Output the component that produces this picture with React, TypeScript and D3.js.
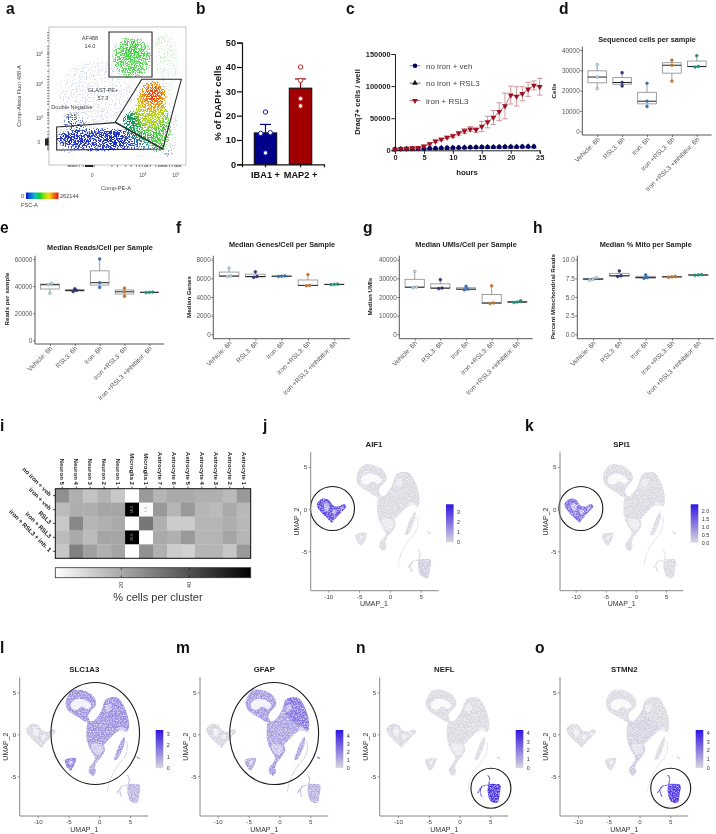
import React, { useEffect, useRef } from 'react';
import * as d3 from 'd3';

const FONT = '"Liberation Sans", Arial, sans-serif';

// panel a, flow plot, all in display channels 0-100 of the plot frame
const flowPopulations: [number, number, number, number, string, number][] = [
  [36, 18.5, 34, 10, '#3a4cd0', 0.5],
  [37, 18, 30, 6.5, '#2a3ccc', 0.62],
  [19, 19, 12, 4.5, '#1c2cc4', 0.74],
  [47, 19, 10, 6, '#1a2cc0', 0.76],
  [72, 13, 13, 5, '#3d7cd0', 0.48],
  [80, 27, 10, 18, '#70d860', 0.54],
  [80, 27, 9, 15, '#58d044', 0.6],
  [70, 29, 13, 12, '#34c440', 0.68],
  [61.5, 33, 8, 7, '#078f5c', 0.82],
  [74, 41, 12, 16, '#c4d820', 0.58],
  [74, 41, 10, 14, '#c4d820', 0.64],
  [76, 50, 11, 12, '#f0a012', 0.58],
  [76, 50, 9, 10, '#f09012', 0.7],
  [76, 51, 5, 6, '#e83010', 0.8],
  [60.5, 78, 16, 17, '#78d878', 0.5],
  [60.5, 78, 13, 13, '#56d456', 0.58],
  [61.5, 82, 5.5, 6, '#28e028', 0.86]
];
const flowBackground: [number, number, number, number, string, number][] = [
  [35, 52, 34, 30, '#3558c0', 0.4],
  [86, 75, 14, 26, '#58c860', 0.41],
  [90, 28, 10, 24, '#60b0a0', 0.42],
  [14, 18, 14, 16, '#3450c0', 0.42],
  [70, 6, 22, 5, '#3858c8', 0.46],
  [72, 92, 8, 3, '#f0a070', 0.46]
];
const gateAf488 = [[43.8, 96.4], [75.2, 96.4], [75.2, 63.8], [43.8, 63.8]];
const gateGlast = [[67.7, 62.1], [96.6, 62.1], [83, 11.6], [48.4, 31.2]];
const gateDouble = [[5.6, 27.5], [48.4, 30.7], [83, 11.6], [5.6, 10.9]];
const flowTicksX = [14, 15, 16, 17, 18, 19, 20, 22, 25, 27, 28, 29, 30, 31, 32, 33, 46, 50, 56, 60, 64, 66, 68, 70, 71, 72, 74, 78, 80, 81, 82, 83, 84, 85, 86, 88, 90, 92, 93, 94, 95, 96];
const flowTicksY = [11, 12, 13, 14, 15, 16, 17, 18, 19, 20, 22, 24, 27, 30, 32, 34, 36, 37, 38, 40, 44, 46, 48, 50, 52, 54, 56, 58, 60, 62, 64, 68, 72, 74, 76, 78, 80, 81, 82, 84, 86, 90, 92, 94, 96];
const rainbow = ['#0a1cc8', '#0a70e0', '#10c0c0', '#10d020', '#a0e010', '#f8d810', '#f07010', '#e81010'];

// panel b
const barCats = ['IBA1 +', 'MAP2 +'];
const barMeans = [12.9, 31.3];
const barErr = [3.5, 3.8];
const barDots = [[21.5, 13.0, 12.7, 4.7], [40, 34.5, 27, 24]];
const barFills = ['#00008b', '#a00000'];

// panel c
const vehValues = [1500, 2000, 2200, 2300, 2500, 2800, 3000, 3200, 3500, 3700, 3900, 4100, 4400, 4600, 4800, 5000, 5100, 5200, 5300, 5400, 5500, 5600, 5700, 5800, 5800];
const rsl3Values = [1400, 1900, 2100, 2200, 2400, 2700, 2900, 3100, 3400, 3600, 3800, 4000, 4300, 4500, 4700, 4900, 5000, 5100, 5200, 5300, 5400, 5500, 5600, 5700, 5700];
const ironValues = [1500, 2500, 3000, 3500, 4000, 6500, 10000, 14000, 17000, 20000, 22500, 26500, 30000, 33000, 32000, 37000, 44000, 51000, 60000, 69000, 86000, 84000, 88000, 95000, 101000, 99000];
const ironErr = [200, 300, 400, 500, 700, 1500, 2000, 2000, 2000, 2000, 2500, 3000, 4000, 4000, 4000, 8000, 9000, 11000, 14000, 20000, 14000, 15000, 11000, 11000, 7000, 13000];
const growthLegend = ['no iron + veh', 'no iron + RSL3', 'iron + RSL3'];
const NAVY = '#00006a';
const RED = '#9c1020';

// panels d-h
const samples = ['Vehicle: 6h', 'RSL3: 6h', 'Iron: 6h', 'Iron +RSL3: 6h', 'Iron +RSL3 +inhibitor: 6h'];
const sampleColors = ['#6f9bb2', '#34347c', '#3b71ad', '#bd7434', '#27907a'];
const cellsPerSample = [[21000, 26700, 32800], [22300, 24000, 28800], [12200, 14800, 23600], [24700, 32500, 35000], [31600, 31900, 37200]];
const readsPerCell = [[34700, 41000, 42000], [36000, 36800, 38000], [39000, 42500, 60000], [32500, 35800, 38500], [35200, 35400, 35600]];
const genesPerCell = [[6200, 6250, 7100], [6100, 6200, 6700], [6200, 6230, 6260], [5200, 5250, 6400], [5330, 5350, 5380]];
const umisPerCell = [[25000, 25300, 33700], [24500, 24800, 29300], [23800, 24200, 25700], [16500, 16800, 26000], [17000, 17300, 18000]];
const mitoPerCell = [[7.25, 7.4, 7.6], [7.75, 7.85, 8.5], [7.5, 7.6, 7.95], [7.65, 7.7, 7.75], [7.9, 7.95, 8.0]];

// panel i
const clusters = ['Neuron 5', 'Neuron 4', 'Neuron 3', 'Neuron 2', 'Neuron 1', 'Microglia 2', 'Microglia 1', 'Astrocyte 7', 'Astrocyte 6', 'Astrocyte 5', 'Astrocyte 4', 'Astrocyte 3', 'Astrocyte 2', 'Astrocyte 1'];
const conditions = ['no iron + veh', 'iron + veh', 'RSL3', 'iron + RSL3', 'iron + RSL3 + inh. 1'];
const clusterShare = [
  [25.6, 18.4, 13.9, 17.5, 13, 0.6, 23.3, 17.3, 19.7, 19.7, 18.4, 18.4, 15.9, 23.6],
  [15.9, 18.8, 18.8, 20.8, 20.8, 58, 1.5, 23.6, 17.3, 23.6, 17.3, 15.9, 19.7, 16.6],
  [13, 27.4, 17.3, 18.4, 19.7, 0.6, 31.2, 18.4, 12, 12, 17.3, 17.3, 18.8, 16.6],
  [15.9, 19.7, 15.9, 20.8, 20.8, 58, 1, 19.7, 18.4, 23.6, 17.3, 17.3, 20.8, 17.3],
  [13.5, 29.3, 22, 18.4, 20.8, 0.8, 25.6, 18.4, 12, 11, 17.3, 17.3, 13.5, 23.6]
];

// panels j-o, outlines of the UMAP islands in UMAP units
const outlineArc = [[-5.47, 3.77], [-5.04, 4.68], [-4.23, 5.28], [-2.87, 5.28], [-1.52, 4.88], [-0.65, 4.17], [-0.54, 3.49], [-1.08, 2.98], [-1.79, 2.3], [-1.52, 1.51], [-2.33, 1.51], [-3.14, 1.9], [-4.5, 2.5], [-5.2, 2.98]];
const outlineLobe = [[-1.79, 1.51], [-0.87, 1.63], [0.38, 2.9], [0.92, 4.0], [2.0, 4.4], [3.09, 4.29], [3.9, 3.49], [4.55, 2.3], [4.82, 1.11], [4.55, 0.32], [3.36, 0.44], [2.28, -0.08], [1.46, -0.67], [0.65, -1.27], [-0.43, -1.27], [-1.79, -1.07], [-2.06, 0.52]];
const outlineLobeTop = [[0.92, 4.0], [2.0, 4.4], [3.09, 4.29], [3.9, 3.49], [4.55, 2.3], [4.82, 1.11], [4.55, 0.52], [2.82, 1.31], [1.3, 2.1]];
const outlineTail = [[-1.79, -1.07], [0.65, -1.27], [0.92, -1.87], [0.38, -2.66], [-0.33, -3.25], [-0.7, -3.93], [-0.54, -4.44], [-0.98, -4.92], [-1.63, -4.64], [-1.68, -4.05], [-1.08, -3.45], [-0.7, -2.86], [-1.25, -2.06]];
const outlineMicroglia = [[-11.82, 0.71], [-11.0, 1.23], [-9.92, 1.11], [-9.21, 0.44], [-8.29, 0.32], [-7.48, 0.6], [-7.05, 0.32], [-7.75, -0.28], [-8.29, -0.67], [-9.0, -1.27], [-9.38, -1.59], [-10.19, -1.07], [-11.27, -0.28], [-11.82, 0.32]];
const outlineTriangle = [[-5.58, -3.06], [-3.79, -2.86], [-4.66, -4.33], [-5.15, -4.05]];
const outlineTiny = [[6.07, -2.58], [6.72, -2.9], [6.4, -2.95], [6.07, -2.75]];
const outlineStrip = [[3.36, -1.07], [4.07, -0.28], [4.17, -0.87], [3.63, -2.06], [2.82, -3.06], [2.44, -3.06], [2.82, -2.06]];
const outlineNeuron = [[4.72, -6.03], [5.8, -5.91], [6.61, -6.03], [6.5, -7.22], [6.18, -8.13], [5.26, -8.06], [4.72, -7.42]];
const strandLine = [[4.44, -0.87], [4.55, -1.47], [4.17, -2.66], [3.09, -3.65], [1.73, -5.44], [1.3, -6.83]];
const neuronStemA = [[4.55, -4.84], [4.88, -5.24], [4.72, -6.23], [5.0, -6.83]];
const neuronStemB = [[4.72, -6.03], [3.63, -6.23], [3.36, -6.83], [3.63, -7.42]];
const neuronStemC = [[3.63, -6.23], [2.9, -7.0]];
const holesArc = [
  [[-4.6, 3.7], [-3.6, 4.2], [-2.1, 4.0], [-1.3, 3.4], [-1.9, 3.0], [-2.8, 3.3], [-3.7, 2.9], [-4.5, 3.1]]
];
const holesSmall = [
  [[-10.7, 0.65], [-10.0, 0.65], [-9.8, 0.2], [-10.2, -0.3], [-10.7, 0.1]],
  [[-9.2, -0.05], [-8.6, -0.15], [-9, -0.65], [-9.35, -0.4]],
  [[-8.0, 0.25], [-7.6, 0.25], [-7.9, -0.15]],
  [[-4.9, -3.25], [-4.3, -3.15], [-4.7, -3.7]]
];
const holesPale = [
  [[-1.3, -1.2], [0.4, -1.3], [0.6, -1.9], [-0.2, -2.5], [-0.9, -2.1]],
  [[1.0, 3.4], [1.8, 3.6], [2.0, 3.0], [1.2, 2.6]],
  [[3.3, 0.9], [4.3, 0.6], [4.4, 0.4], [3.2, 0.5]]
];
// expression level of each island: arc, lobe, lobeTop, tail, microglia, triangle, tiny, strip, strand, neuron
const levelsAif1 = [0, 0, 0, 0, 0.75, 0, 0, 0, 0, 0.07];
const levelsSpi1 = [0, 0, 0, 0, 0.55, 0, 0, 0, 0, 0];
const levelsSlc1a3 = [0.36, 0.36, 0.4, 0.3, 0.02, 0.48, 0.25, 0.32, 0.16, 0.2];
const levelsGfap = [0.34, 0.3, 0.52, 0.36, 0.03, 0.26, 0.3, 0.3, 0.16, 0.22];
const levelsNefl = [0, 0, 0, 0, 0, 0, 0, 0, 0, 0.85];
const levelsStmn2 = [0, 0.04, 0, 0.08, 0, 0, 0, 0, 0, 0.85];

const umapPanels = [
  { gene: 'AIF1', levels: levelsAif1, xPx: [328.3, 420.7], yPx: [551.3, 467], left: 310.7, right: 438.7, top: 452.3, bottom: 590.7, titleX: 374, titleY: 446.7, yLabelX: 299, ring: [-9.32, 0.08, 3.57, 2.61], legendX: 446, legendY: [504.3, 542.3], legendTicks: [0, 1, 2, 3], legendTopY: 512, legendFmt: 'd' },
  { gene: 'SPI1', levels: levelsSpi1, xPx: [575.7, 666], yPx: [551.3, 467], left: 560, right: 683.3, top: 452.3, bottom: 590.7, titleX: 621.7, titleY: 446.7, yLabelX: 548, ring: [-9.14, 0.08, 3.65, 2.61], legendX: 690.7, legendY: [504.3, 542.7], legendTicks: [0, 0.5, 1, 1.5, 2], legendTopY: 510.7, legendFmt: '.1f' },
  { gene: 'SLC1A3', levels: levelsSlc1a3, xPx: [37.7, 130], yPx: [776.3, 692.3], left: 19.7, right: 148.3, top: 677.3, bottom: 816, titleX: 84.3, titleY: 672, yLabelX: 8.5, ring: [-0.65, 0.1, 7.2, 6.07], legendX: 155.7, legendY: [730, 768], legendTicks: [0, 1, 2, 3], legendTopY: 734, legendFmt: 'd' },
  { gene: 'GFAP', levels: levelsGfap, xPx: [217.7, 310.3], yPx: [776.3, 692.3], left: 200, right: 328.3, top: 677.3, bottom: 816, titleX: 264.3, titleY: 672, yLabelX: 188, ring: [-0.85, 0.1, 7.2, 6.07], legendX: 335.7, legendY: [730, 768], legendTicks: [0, 1, 2, 3, 4], legendTopY: 736, legendFmt: 'd' },
  { gene: 'NEFL', levels: levelsNefl, xPx: [398, 490.3], yPx: [776.3, 692.3], left: 379.7, right: 508.3, top: 677.3, bottom: 816, titleX: 444.3, titleY: 672, yLabelX: 368.5, ring: [5.1, -6.43, 3.25, 2.38], legendX: 515.7, legendY: [730, 768], legendTicks: [0, 1, 2, 3, 4], legendTopY: 733, legendFmt: 'd' },
  { gene: 'STMN2', levels: levelsStmn2, xPx: [578, 670.3], yPx: [776.3, 692.3], left: 560, right: 688.3, top: 677.3, bottom: 816, titleX: 624.3, titleY: 672, yLabelX: 548.5, ring: [5.07, -6.43, 3.25, 2.38], legendX: 695.7, legendY: [730, 768], legendTicks: [0, 1, 2, 3, 4], legendTopY: 733, legendFmt: 'd' }
];

const panelLetters: [string, number, number][] = [
  ['a', 6, 13.6], ['b', 196, 13.6], ['c', 346, 13.6], ['d', 559, 13.6],
  ['e', 0, 233], ['f', 176, 233], ['g', 363, 233], ['h', 533, 233],
  ['i', 0, 431], ['j', 263, 431], ['k', 525, 431],
  ['l', 0, 653], ['m', 176, 653], ['n', 356, 653], ['o', 535, 653]
];

type G = d3.Selection<SVGGElement, unknown, null, undefined>;

function label(g: G, x: number, y: number, s: string, size: number, opts: any = {}) {
  const t = g.append('text')
    .attr('x', x).attr('y', y)
    .attr('font-size', size)
    .attr('font-family', FONT)
    .attr('font-weight', opts.weight || 'normal')
    .attr('fill', opts.fill || '#222')
    .attr('text-anchor', opts.anchor || 'middle')
    .text(s);
  if (opts.rotate !== undefined) t.attr('transform', `rotate(${opts.rotate},${x},${y})`);
  return t;
}

// side by side offsets for points that would sit on top of each other
function swarm(values: number[], y: (v: number) => number, gap: number, spacing: number) {
  const order = values.map((v, i) => ({ v, i })).sort((a, b) => a.v - b.v);
  const offsets = values.map(() => 0);
  let start = 0;
  for (let k = 1; k <= order.length; k++) {
    if (k === order.length || Math.abs(y(order[k].v) - y(order[k - 1].v)) > gap) {
      const n = k - start;
      for (let j = start; j < k; j++) offsets[order[j].i] = (j - start - (n - 1) / 2) * spacing;
      start = k;
    }
  }
  return offsets;
}

function drawFlow(root: G) {
  const x = d3.scaleLinear().domain([0, 100]).range([49, 186]);
  const y = d3.scaleLinear().domain([0, 100]).range([165, 27]);
  const g = root.append('g');

  const cloud = (rows: typeof flowPopulations, filter: string) => {
    g.append('g').attr('clip-path', 'url(#flowClip)').append('g').attr('filter', filter)
      .selectAll('ellipse').data(rows).enter().append('ellipse')
      .attr('cx', d => x(d[0])).attr('cy', d => y(d[1]))
      .attr('rx', d => x(d[2]) - x(0)).attr('ry', d => y(0) - y(d[3]))
      .attr('fill', d => d[4]).attr('opacity', d => d[5]);
  };
  cloud(flowBackground, 'url(#speckSparse)');
  cloud(flowPopulations, 'url(#speckDense)');

  g.append('rect').attr('x', 49).attr('y', 27).attr('width', 137).attr('height', 138)
    .attr('fill', 'none').attr('stroke', '#c4c4c4').attr('stroke-width', 1);

  const gate = d3.line<number[]>().x(d => x(d[0])).y(d => y(d[1])).curve(d3.curveLinearClosed);
  [gateAf488, gateGlast, gateDouble].forEach(p => {
    g.append('path').attr('d', gate(p)).attr('fill', 'none').attr('stroke', '#2a2a2a').attr('stroke-width', 1.1);
  });

  // axis ticks
  g.selectAll('.tx').data(flowTicksX).enter().append('line')
    .attr('x1', d => x(d)).attr('x2', d => x(d)).attr('y1', 165).attr('y2', 167).attr('stroke', '#333').attr('stroke-width', 0.6);
  g.selectAll('.ty').data(flowTicksY).enter().append('line')
    .attr('y1', d => y(d)).attr('y2', d => y(d)).attr('x1', 47).attr('x2', 49).attr('stroke', '#333').attr('stroke-width', 0.6);
  g.append('rect').attr('x', 45).attr('y', 138.5).attr('width', 3.5).attr('height', 7).attr('fill', '#222');
  g.append('rect').attr('x', 85).attr('y', 165).attr('width', 8).attr('height', 2).attr('fill', '#222');

  const s = 5.6;
  const c = '#444';
  label(g, 90, 40, 'AF488', s, { fill: c });
  label(g, 90, 48, '14.0', s, { fill: c });
  label(g, 103, 92, 'GLAST-PE+', s, { fill: c });
  label(g, 103, 100, '57.3', s, { fill: c });
  label(g, 72, 109, 'Double Negative', s, { fill: c });
  label(g, 71.5, 118, '22.5', s, { fill: c });
  label(g, 116, 190, 'Comp-PE-A', s, { fill: c });
  label(g, 21, 96, 'Comp-Alexa Fluor 488-A', s, { fill: c, rotate: -90 });

  const power = (px: number, py: number, exp: string, anchor: string) => {
    const t = label(g, px, py, '10', 4.6, { fill: c, anchor });
    t.append('tspan').attr('dy', -1.6).attr('font-size', 3.4).text(exp);
  };
  power(43, 56, '5', 'end');
  power(43, 86, '4', 'end');
  power(43, 120, '3', 'end');
  label(g, 40, 144, '0', 4.6, { fill: c, anchor: 'end' });
  label(g, 92.3, 177, '0', 4.6, { fill: c });
  power(143, 177, '4', 'middle');
  power(176, 177, '5', 'middle');

  g.append('rect').attr('x', 26).attr('y', 192.5).attr('width', 32.5).attr('height', 6.5).attr('fill', 'url(#rainbow)');
  label(g, 21, 198, '0', 5.6, { fill: c, anchor: 'start' });
  label(g, 60, 198, '262144', 5.6, { fill: c, anchor: 'start' });
  label(g, 21, 207, 'FSC-A', 5.6, { fill: c, anchor: 'start' });
}

function drawBars(root: G) {
  const g = root.append('g');
  const x = d3.scaleBand().domain(barCats).range([242, 324]).paddingInner(0.36).paddingOuter(0.35);
  const y = d3.scaleLinear().domain([0, 50]).range([164.3, 42.7]);

  barCats.forEach((cat, i) => {
    const cx = (x(cat) as number) + x.bandwidth() / 2;
    g.append('line').attr('x1', cx).attr('x2', cx).attr('y1', y(barMeans[i])).attr('y2', y(barMeans[i] + barErr[i]))
      .attr('stroke', barFills[i]).attr('stroke-width', 1.2);
    g.append('line').attr('x1', cx - 5.5).attr('x2', cx + 5.5).attr('y1', y(barMeans[i] + barErr[i])).attr('y2', y(barMeans[i] + barErr[i]))
      .attr('stroke', barFills[i]).attr('stroke-width', 1.2);
    g.append('rect').attr('x', x(cat) as number).attr('width', x.bandwidth())
      .attr('y', y(barMeans[i])).attr('height', y(0) - y(barMeans[i]))
      .attr('fill', barFills[i]).attr('stroke', '#111').attr('stroke-width', 1.1);
    const off = swarm(barDots[i], y, 3, 9.6);
    g.selectAll(`.d${i}`).data(barDots[i]).enter().append('circle')
      .attr('cx', (_, k) => cx + off[k]).attr('cy', d => y(d)).attr('r', 2.2)
      .attr('fill', 'white').attr('stroke', i === 0 ? '#1a1ab0' : '#d02020').attr('stroke-width', 1);
  });

  const ya = g.append('g').attr('transform', 'translate(242,0)').call(d3.axisLeft(y).tickValues([0, 10, 20, 30, 40, 50]).tickSize(5).tickPadding(1));
  const xa = g.append('g').attr('transform', 'translate(0,164.3)').call(d3.axisBottom(x).tickSize(3).tickPadding(4));
  [ya, xa].forEach(a => {
    a.selectAll('path,line').attr('stroke', '#111').attr('stroke-width', 1.2);
    a.selectAll('text').attr('font-family', FONT).attr('font-weight', 'bold').attr('fill', '#111');
  });
  ya.selectAll('text').attr('font-size', 9.2);
  xa.selectAll('text').attr('font-size', 9.2);
  label(g, 220.5, 103, '% of DAPI+ cells', 9.6, { weight: 'bold', rotate: -90, fill: '#111' });
}

function drawGrowth(root: G) {
  const g = root.append('g');
  const x = d3.scaleLinear().domain([0, 25]).range([395, 539.7]);
  const y = d3.scaleLinear().domain([0, 150000]).range([150.3, 54]);
  const line = d3.line<number>().x((_, i) => x(i)).y(d => y(d));

  const axY = g.append('g').attr('transform', 'translate(395,0)').call(d3.axisLeft(y).tickValues([0, 50000, 100000, 150000]).tickSize(3.5).tickPadding(1).tickFormat(d => String(d)));
  const axX = g.append('g').attr('transform', 'translate(0,150.3)').call(d3.axisBottom(x).tickValues([0, 5, 10, 15, 20, 25]).tickSize(3.5).tickPadding(1));
  [axY, axX].forEach(a => {
    a.selectAll('path,line').attr('stroke', '#222').attr('stroke-width', 1);
    a.selectAll('text').attr('font-family', FONT).attr('font-weight', 'bold').attr('font-size', 7.4).attr('fill', '#222');
  });

  const sym = (type: d3.SymbolType, size: number) => d3.symbol().type(type).size(size)() as string;

  // black series sits underneath the navy one
  g.append('path').attr('d', line(rsl3Values)).attr('fill', 'none').attr('stroke', '#444').attr('stroke-width', 0.7);
  g.selectAll('.rsl3').data(rsl3Values).enter().append('path')
    .attr('d', sym(d3.symbolTriangle, 14)).attr('fill', '#111')
    .attr('transform', (d, i) => `translate(${x(i)},${y(d)})`);

  g.append('path').attr('d', line(vehValues)).attr('fill', 'none').attr('stroke', '#7070b0').attr('stroke-width', 0.7);
  g.selectAll('.veh').data(vehValues).enter().append('circle')
    .attr('cx', (_, i) => x(i)).attr('cy', d => y(d)).attr('r', 2.3).attr('fill', NAVY);

  ironValues.forEach((v, i) => {
    const e = ironErr[i];
    const cap = 2.8;
    const p = `M${x(i)},${y(v - e)}V${y(v + e)}M${x(i) - cap},${y(v + e)}H${x(i) + cap}M${x(i) - cap},${y(v - e)}H${x(i) + cap}`;
    g.append('path').attr('d', p).attr('fill', 'none').attr('stroke', '#c08088').attr('stroke-width', 0.8);
  });
  g.append('path').attr('d', line(ironValues)).attr('fill', 'none').attr('stroke', '#b04050').attr('stroke-width', 0.8);
  g.selectAll('.iron').data(ironValues).enter().append('path')
    .attr('d', sym(d3.symbolTriangle, 15)).attr('fill', RED)
    .attr('transform', (d, i) => `translate(${x(i)},${y(d)}) rotate(180)`);

  // legend
  const ly = d3.scalePoint<string>().domain(growthLegend).range([65.7, 100.6]);
  const colors = ['#7070b0', '#444', '#b04050'];
  growthLegend.forEach((name, i) => {
    const yy = ly(name) as number;
    g.append('line').attr('x1', 409.5).attr('x2', 420.5).attr('y1', yy).attr('y2', yy).attr('stroke', colors[i]).attr('stroke-width', 0.8);
    if (i === 0) g.append('circle').attr('cx', 415).attr('cy', yy).attr('r', 2.3).attr('fill', NAVY);
    if (i === 1) g.append('path').attr('d', sym(d3.symbolTriangle, 14)).attr('fill', '#111').attr('transform', `translate(415,${yy})`);
    if (i === 2) g.append('path').attr('d', sym(d3.symbolTriangle, 15)).attr('fill', RED).attr('transform', `translate(415,${yy}) rotate(180)`);
    label(g, 426, yy + 2.9, name, 8, { anchor: 'start', fill: '#444' });
  });

  label(g, 467, 175, 'hours', 7.8, { weight: 'bold' });
  label(g, 360, 102, 'Draq7+ cells / well', 7.6, { weight: 'bold', rotate: -90 });
}

function drawBox(root: G, cfg: any) {
  const g = root.append('g');
  const x = d3.scalePoint<string>().domain(samples).range([cfg.left, cfg.right]).padding(0.6);
  const y = d3.scaleLinear().domain([0, cfg.refValue]).range([cfg.y0, cfg.yRef]);
  const half = (x.step() * 0.75) / 2;

  cfg.data.forEach((vals: number[], i: number) => {
    const cx = x(samples[i]) as number;
    const sorted = vals.slice().sort(d3.ascending);
    const q1 = d3.quantile(sorted, 0.25) as number;
    const med = d3.quantile(sorted, 0.5) as number;
    const q3 = d3.quantile(sorted, 0.75) as number;
    g.append('line').attr('x1', cx).attr('x2', cx).attr('y1', y(sorted[0])).attr('y2', y(sorted[2])).attr('stroke', '#8a8a8a').attr('stroke-width', 0.8);
    g.append('rect').attr('x', cx - half).attr('width', half * 2).attr('y', y(q3)).attr('height', y(q1) - y(q3))
      .attr('fill', '#fff').attr('stroke', '#8a8a8a').attr('stroke-width', 0.8);
    g.append('line').attr('x1', cx - half).attr('x2', cx + half).attr('y1', y(med)).attr('y2', y(med)).attr('stroke', '#222').attr('stroke-width', 1);
    const off = swarm(vals, y, 1.6, 3.3);
    g.selectAll(`.p${i}`).data(vals).enter().append('circle')
      .attr('cx', (_, k) => cx + off[k]).attr('cy', d => y(d)).attr('r', 1.4)
      .attr('fill', i === 0 ? '#cfdde5' : sampleColors[i]).attr('stroke', sampleColors[i]).attr('stroke-width', 0.6);
  });

  const ya = g.append('g').attr('transform', `translate(${cfg.left},0)`)
    .call(d3.axisLeft(y).tickValues(cfg.ticks).tickSize(2).tickPadding(0.6).tickFormat(d3.format(cfg.fmt) as any));
  const xa = g.append('g').attr('transform', `translate(0,${cfg.bottom})`).call(d3.axisBottom(x).tickSize(2));
  [ya, xa].forEach(a => {
    a.select('.domain').remove();
    a.selectAll('line').attr('stroke', '#444').attr('stroke-width', 0.7);
    a.selectAll('text').attr('font-family', FONT).attr('fill', '#555');
  });
  ya.selectAll('text').attr('font-size', 6.4);
  xa.selectAll('text').attr('font-size', 6.6)
    .attr('text-anchor', 'end')
    .attr('dx', 0).attr('dy', 0)
    .attr('transform', 'translate(2.5,5) rotate(-45)')
    .attr('y', 0);
  g.append('path').attr('d', `M${cfg.left},${cfg.top}V${cfg.bottom}H${cfg.right}`).attr('fill', 'none').attr('stroke', '#444').attr('stroke-width', 0.9);

  label(g, cfg.titleX, cfg.titleY, cfg.title, 7.3, { weight: 'bold' });
  label(g, cfg.yLabelX, cfg.yLabelY, cfg.yLabel, 6.2, { weight: 'bold', rotate: -90 });
}

function drawHeatmap(root: G) {
  const g = root.append('g');
  const x = d3.scaleBand().domain(clusters).range([55.3, 250.7]);
  const y = d3.scaleBand().domain(conditions).range([488.7, 558.3]);
  const color = d3.scaleLinear<string>().domain([0.6, 58]).range(['#ffffff', '#000000']);
  const barX = d3.scaleLinear().domain([20, 40]).range([121.3, 189.3]);

  clusterShare.forEach((row, r) => {
    row.forEach((v, c) => {
      g.append('rect').attr('x', x(clusters[c]) as number).attr('y', y(conditions[r]) as number)
        .attr('width', x.bandwidth() + 0.3).attr('height', y.bandwidth() + 0.3).attr('fill', color(v));
      if (v > 50 || (v > 1.2 && v < 2)) {
        const cx = (x(clusters[c]) as number) + x.bandwidth() / 2;
        const cy = (y(conditions[r]) as number) + y.bandwidth() / 2;
        label(g, cx + 1.2, cy, d3.format('.1f')(v), 3.8, { fill: '#999', rotate: -90 });
      }
    });
  });
  g.append('rect').attr('x', 55.3).attr('y', 488.7).attr('width', 195.4).attr('height', 69.6).attr('fill', 'none').attr('stroke', '#111').attr('stroke-width', 1);

  clusters.forEach(c => {
    const cx = (x(c) as number) + x.bandwidth() / 2;
    g.append('line').attr('x1', cx).attr('x2', cx).attr('y1', 486.5).attr('y2', 488.7).attr('stroke', '#222').attr('stroke-width', 0.8);
    label(g, cx - 2, 485, c, 6.1, { weight: 'bold', anchor: 'end', rotate: 90 }).attr('dy', 0);
  });
  conditions.forEach(c => {
    const cy = (y(c) as number) + y.bandwidth() / 2;
    g.append('line').attr('x1', 53).attr('x2', 55.3).attr('y1', cy).attr('y2', cy).attr('stroke', '#222').attr('stroke-width', 0.8);
    label(g, 49, cy + 1, c, 6.1, { weight: 'bold', anchor: 'end', rotate: 45 });
  });

  g.append('rect').attr('x', 55.3).attr('y', 567.7).attr('width', 195.4).attr('height', 10)
    .attr('fill', 'url(#greyRamp)').attr('stroke', '#333').attr('stroke-width', 0.8);
  [20, 40].forEach(t => {
    g.append('line').attr('x1', barX(t)).attr('x2', barX(t)).attr('y1', 567.7).attr('y2', 570).attr('stroke', '#222').attr('stroke-width', 0.7);
    g.append('line').attr('x1', barX(t)).attr('x2', barX(t)).attr('y1', 575.5).attr('y2', 578).attr('stroke', '#222').attr('stroke-width', 0.7);
    label(g, barX(t) + 2, 585, String(t), 6, { fill: '#444', rotate: -90 });
  });
  label(g, 158, 601, '% cells per cluster', 11, { fill: '#333' });
}

function drawUmap(root: G, p: typeof umapPanels[number]) {
  const g = root.append('g');
  const x = d3.scaleLinear().domain([-10, 5]).range(p.xPx);
  const y = d3.scaleLinear().domain([-5, 5]).range(p.yPx);
  const shape = d3.line<number[]>().x(d => x(d[0])).y(d => y(d[1])).curve(d3.curveCatmullRomClosed.alpha(0.5));
  const open = d3.line<number[]>().x(d => x(d[0])).y(d => y(d[1])).curve(d3.curveCatmullRom.alpha(0.5));
  const tint = d3.scaleLinear<string>().domain([0, 1]).range(['#d9d7df', '#3015e0']);

  const cloud = g.append('g').attr('filter', 'url(#grain)');
  const islands = [outlineArc, outlineLobe, outlineLobeTop, outlineTail, outlineMicroglia, outlineTriangle, outlineTiny, outlineStrip];
  islands.forEach((o, i) => {
    cloud.append('path').attr('d', shape(o)).attr('fill', tint(p.levels[i]));
  });
  cloud.append('path').attr('d', open(strandLine)).attr('fill', 'none').attr('stroke', tint(p.levels[8])).attr('stroke-width', 0.8);
  [neuronStemA, neuronStemB, neuronStemC].forEach(o => {
    cloud.append('path').attr('d', open(o)).attr('fill', 'none').attr('stroke', tint(p.levels[9] * 0.9)).attr('stroke-width', 1.1);
  });
  cloud.append('path').attr('d', shape(outlineNeuron)).attr('fill', tint(p.levels[9]));
  holesArc.forEach(o => {
    cloud.append('path').attr('d', shape(o)).attr('fill', 'white').attr('opacity', 0.85);
  });
  holesSmall.forEach(o => {
    cloud.append('path').attr('d', shape(o)).attr('fill', 'white').attr('opacity', 0.55);
  });
  holesPale.forEach(o => {
    cloud.append('path').attr('d', shape(o)).attr('fill', 'white').attr('opacity', 0.45);
  });

  const ring = p.ring;
  g.append('ellipse')
    .attr('cx', x(ring[0])).attr('cy', y(ring[1]))
    .attr('rx', x(ring[2]) - x(0)).attr('ry', y(0) - y(ring[3]))
    .attr('fill', 'none').attr('stroke', '#1a1a1a').attr('stroke-width', 1.1);

  const ax = g.append('g').attr('transform', `translate(0,${p.bottom})`)
    .call(d3.axisBottom(x).tickValues([-10, -5, 0, 5]).tickSize(2).tickPadding(1.5).tickFormat(d => String(d)));
  const ay = g.append('g').attr('transform', `translate(${p.left},0)`)
    .call(d3.axisLeft(y).tickValues([-5, 0, 5]).tickSize(2).tickPadding(1.5).tickFormat(d => String(d)));
  [ax, ay].forEach(a => {
    a.select('.domain').remove();
    a.selectAll('line').attr('stroke', '#666').attr('stroke-width', 0.7);
    a.selectAll('text').attr('font-family', FONT).attr('font-size', 6.2).attr('fill', '#444');
  });
  g.append('path').attr('d', `M${p.left},${p.top}V${p.bottom}H${p.right}`).attr('fill', 'none').attr('stroke', '#888').attr('stroke-width', 1);

  label(g, p.titleX, p.titleY, p.gene, 7.8, { weight: 'bold' });
  label(g, p.titleX, p.bottom + 15.7, 'UMAP_1', 7, { fill: '#333' });
  label(g, p.yLabelX, (p.top + p.bottom) / 2, 'UMAP_2', 7, { fill: '#333', rotate: -90 });

  // colour legend
  const ticks = p.legendTicks;
  const ls = d3.scaleLinear().domain([0, ticks[ticks.length - 1]]).range([p.legendY[1], p.legendTopY]);
  g.append('rect').attr('x', p.legendX).attr('y', p.legendY[0]).attr('width', 7.6).attr('height', p.legendY[1] - p.legendY[0]).attr('fill', `url(#seurat)`);
  ticks.forEach(t => {
    label(g, p.legendX + 11, ls(t) + 1.9, d3.format(p.legendFmt)(t), 5.4, { fill: '#333', anchor: 'start' });
  });
}

export default function App() {
  const svgRef = useRef<SVGSVGElement>(null);

  useEffect(() => {
    if (!svgRef.current) return;
    const svg = d3.select(svgRef.current);
    svg.selectAll('*').remove();

    const defs = svg.append('defs');
    defs.append('clipPath').attr('id', 'flowClip').append('rect').attr('x', 49).attr('y', 27).attr('width', 137).attr('height', 138);

    const grad = (id: string, stops: string[], vertical: boolean) => {
      const lg = defs.append('linearGradient').attr('id', id)
        .attr('x1', 0).attr('y1', vertical ? 1 : 0).attr('x2', vertical ? 0 : 1).attr('y2', 0);
      stops.forEach((c, i) => lg.append('stop').attr('offset', i / (stops.length - 1)).attr('stop-color', c));
    };
    grad('rainbow', rainbow, false);
    grad('greyRamp', ['#ffffff', '#000000'], false);
    grad('seurat', ['#d9d7df', '#3015e0'], true);

    // speckle: turbulence turned into an alpha mask, then thresholded
    const speckle = (id: string, blur: number, freq: number, seed: number, gain: number, bias: number, slope: number, intercept: number) => {
      const f = defs.append('filter').attr('id', id)
        .attr('color-interpolation-filters', 'sRGB')
        .attr('filterUnits', 'userSpaceOnUse').attr('x', 0).attr('y', 0).attr('width', 716).attr('height', 834);
      f.append('feGaussianBlur').attr('in', 'SourceGraphic').attr('stdDeviation', blur).attr('result', 'b');
      f.append('feTurbulence').attr('type', 'fractalNoise').attr('baseFrequency', freq).attr('numOctaves', 2).attr('seed', seed).attr('result', 'n');
      f.append('feColorMatrix').attr('in', 'n').attr('type', 'matrix')
        .attr('values', `0 0 0 0 1  0 0 0 0 1  0 0 0 0 1  ${gain} 0 0 0 ${bias}`).attr('result', 'm');
      f.append('feComposite').attr('in', 'b').attr('in2', 'm').attr('operator', 'in').attr('result', 'c');
      const t = f.append('feComponentTransfer').attr('in', 'c');
      t.append('feFuncA').attr('type', 'linear').attr('slope', slope).attr('intercept', intercept);
    };
    speckle('speckDense', 2.4, 0.73, 4, 3.2, -1, 7, -2.6);
    speckle('speckSparse', 5, 0.73, 9, 3.2, -1, 8, -3);
    speckle('grain', 0.4, 0.73, 7, 1.7, -0.15, 1.15, 0);

    defs.append('filter').attr('id', 'soft').attr('filterUnits', 'userSpaceOnUse')
      .attr('color-interpolation-filters', 'sRGB')
      .attr('x', 0).attr('y', 0).attr('width', 716).attr('height', 834)
      .append('feGaussianBlur').attr('stdDeviation', 0.3);

    const root = svg.append('g').attr('filter', 'url(#soft)') as unknown as G;
    root.append('rect').attr('width', 716).attr('height', 834).attr('fill', 'white');

    drawFlow(root);
    drawBars(root);
    drawGrowth(root);

    const y0 = 334.3;
    const yRef = 259.7;
    drawBox(root, { data: cellsPerSample, title: 'Sequenced cells per sample', yLabel: 'Cells', left: 582.3, right: 711.7, top: 46.7, bottom: 135, y0: 131.3, yRef: 50, refValue: 40000, ticks: [0, 10000, 20000, 30000, 40000], fmt: 'd', titleX: 647, titleY: 42, yLabelX: 556, yLabelY: 91 });
    drawBox(root, { data: readsPerCell, title: 'Median Reads/Cell per Sample', yLabel: 'Reads per sample', left: 35, right: 164.3, top: 255.7, bottom: 344, y0: 340.3, yRef: 259, refValue: 60000, ticks: [0, 20000, 40000, 60000], fmt: 'd', titleX: 100, titleY: 250, yLabelX: 8.5, yLabelY: 299 });
    drawBox(root, { data: genesPerCell, title: 'Median Genes/Cell per Sample', yLabel: 'Median Genes', left: 213.3, right: 350, top: 255.7, bottom: 338.7, y0, yRef, refValue: 8000, ticks: [0, 2000, 4000, 6000, 8000], fmt: 'd', titleX: 282, titleY: 246.7, yLabelX: 190.5, yLabelY: 297 });
    drawBox(root, { data: umisPerCell, title: 'Median UMIs/Cell per Sample', yLabel: 'Median UMIs', left: 399.3, right: 532.7, top: 255.7, bottom: 338.7, y0, yRef, refValue: 40000, ticks: [0, 10000, 20000, 30000, 40000], fmt: 'd', titleX: 466, titleY: 246.7, yLabelX: 372.5, yLabelY: 296.7 });
    drawBox(root, { data: mitoPerCell, title: 'Median % Mito per Sample', yLabel: 'Percent Mitochondrial Reads', left: 577.3, right: 714, top: 255.7, bottom: 338.7, y0, yRef, refValue: 10, ticks: [0, 2.5, 5, 7.5, 10], fmt: '.1f', titleX: 645.7, titleY: 246.7, yLabelX: 555, yLabelY: 296.7 });

    drawHeatmap(root);
    umapPanels.forEach(p => drawUmap(root, p));

    panelLetters.forEach(([s, x, y]) => {
      label(root, x, y, s, 15.6, { weight: 'bold', anchor: 'start', fill: '#111' });
    });
  }, []);

  return <svg ref={svgRef} width={716} height={834} style={{ position: 'absolute', left: 0, top: 0, display: 'block' }} />;
}
